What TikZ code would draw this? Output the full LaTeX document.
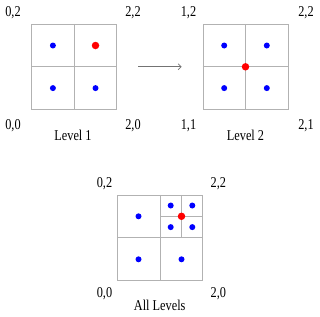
\documentclass[tikz,border=0pt]{standalone}
\usepackage{fontspec}
\setmainfont{Liberation Serif}[FakeStretch=0.82]
\usetikzlibrary{arrows.meta}
\begin{document}
\begin{tikzpicture}[x=1pt,y=-1pt,
  cell/.style={draw=black!30, line width=0.9pt, minimum size=85pt, inner sep=0pt},
  bdot/.style={circle, fill=blue, minimum size=6pt, inner sep=0pt},
  rdot/.style={circle, fill=red, minimum size=7.5pt, inner sep=0pt},
  lbl/.style={font=\fontsize{15}{17}\selectfont, inner sep=0pt, anchor=base},
  gl/.style={draw=black!30, line width=0.9pt}]
\useasboundingbox (0,0) rectangle (320,316);
% Level 1
\node[cell] (A) at (74.2,66.8) {};
\draw[gl] (A.north) -- (A.south);
\draw[gl] (A.west) -- (A.east);
\node[bdot] (a1) at (52.9,45.5) {};
\node[rdot] (a2) at (95.5,45.5) {};
\node[bdot] (a3) at (52.9,88.1) {};
\node[bdot] (a4) at (95.5,88.1) {};
\node[lbl] (a5) at (13,16) {0,2};
\node[lbl] (a6) at (133,16) {2,2};
\node[lbl] (a7) at (13,129) {0,0};
\node[lbl] (a8) at (133,129) {2,0};
\node[lbl] (a9) at (73,140) {Level 1};
% Level 2
\node[cell] (B) at (245.5,66.8) {};
\draw[gl] (B.north) -- (B.south);
\draw[gl] (B.west) -- (B.east);
\node[bdot] (b1) at (224.2,45.5) {};
\node[bdot] (b2) at (266.8,45.5) {};
\node[bdot] (b3) at (224.2,88.1) {};
\node[bdot] (b4) at (266.8,88.1) {};
\node[rdot] (b0) at (B.center) {};
\node[lbl] (b5) at (188.5,16) {1,2};
\node[lbl] (b6) at (306,16) {2,2};
\node[lbl] (b7) at (188.5,129) {1,1};
\node[lbl] (b8) at (306,129) {2,1};
\node[lbl] (b9) at (245.5,140) {Level 2};
% arrow
\draw[-{Straight Barb[length=3pt,width=6pt]}, black!55, line width=0.7pt, shorten <=21pt, shorten >=21pt] (A.east) -- (B.west);
% All levels
\node[cell] (C) at (160,237.8) {};
\draw[gl] (C.north) -- (C.south);
\draw[gl] (C.west) -- (C.east);
\coordinate (q) at (181.5,216.3);
\draw[gl] (q |- C.north) -- (q |- C.center);
\draw[gl] (q -| C.center) -- (q -| C.east);
\node[bdot] (c1) at (138.5,216.3) {};
\node[bdot] (c2) at (138.5,259.3) {};
\node[bdot] (c3) at (181.5,259.3) {};
\node[bdot] (c4) at (170.7,205.5) {};
\node[bdot] (c5) at (192.3,205.5) {};
\node[bdot] (c6) at (170.7,227.1) {};
\node[bdot] (c7) at (192.3,227.1) {};
\node[rdot] (c0) at (q) {};
\node[lbl] (c8) at (104.5,187.5) {0,2};
\node[lbl] (c9) at (218.3,187.5) {2,2};
\node[lbl] (c10) at (104.5,297.5) {0,0};
\node[lbl] (c11) at (218.3,297.5) {2,0};
\node[lbl] (c12) at (159.7,310) {All Levels};
\end{tikzpicture}
\end{document}
